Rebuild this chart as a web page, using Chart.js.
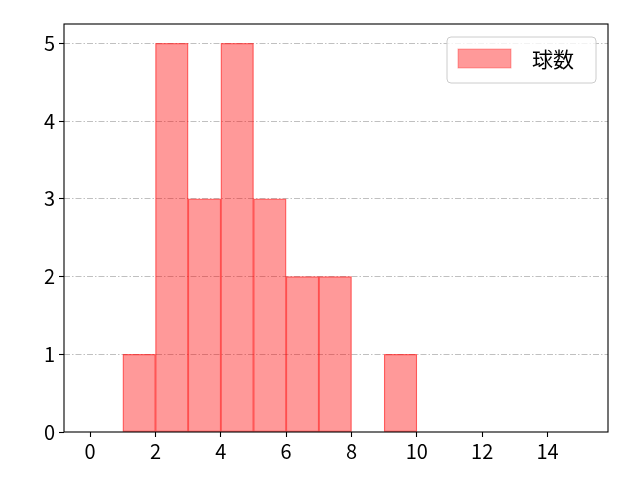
<!DOCTYPE html>
<html>
<head>
<meta charset="utf-8">
<script src="https://cdn.jsdelivr.net/npm/chart.js@4.4.1/dist/chart.umd.min.js"></script>
<style>
  html, body { margin: 0; padding: 0; background: #fff; }
  #wrap { width: 640px; height: 480px; }
</style>
</head>
<body>
<div id="wrap"><canvas id="c"></canvas></div>
<script>
// histogram bins (left edge of each 1-wide bin) and counts
const binStarts = [1, 2, 3, 4, 5, 6, 7, 8, 9];
const counts = [1, 5, 3, 5, 3, 2, 2, 0, 1];
const xTicks = [0, 2, 4, 6, 8, 10, 12, 14];
const yTicks = [0, 1, 2, 3, 4, 5];
const seriesLabel = '球数';

const FONT = '"Noto Sans CJK JP", "DejaVu Sans", sans-serif';

// frame + legend drawn on top, matplotlib style
const framePlugin = {
    id: 'frame',
    afterDraw(chart) {
        const ctx = chart.ctx;
        const a = chart.chartArea;
        ctx.save();
        ctx.strokeStyle = '#000';
        ctx.lineWidth = 1.1;
        ctx.strokeRect(a.left, a.top, a.right - a.left, a.bottom - a.top);

        // legend box
        const bx = 447, by = 37, bw = 149, bh = 46, r = 4;
        ctx.beginPath();
        ctx.moveTo(bx + r, by);
        ctx.arcTo(bx + bw, by, bx + bw, by + bh, r);
        ctx.arcTo(bx + bw, by + bh, bx, by + bh, r);
        ctx.arcTo(bx, by + bh, bx, by, r);
        ctx.arcTo(bx, by, bx + bw, by, r);
        ctx.closePath();
        ctx.fillStyle = 'rgba(255,255,255,0.8)';
        ctx.fill();
        ctx.strokeStyle = '#cccccc';
        ctx.lineWidth = 1;
        ctx.stroke();

        ctx.fillStyle = 'rgba(255,0,0,0.4)';
        ctx.fillRect(458, 49, 53, 19);
        ctx.strokeStyle = 'rgba(255,0,0,0.3)';
        ctx.strokeRect(458, 49, 53, 19);

        ctx.fillStyle = '#000';
        ctx.font = '21px ' + FONT;
        ctx.textBaseline = 'middle';
        ctx.textAlign = 'left';
        ctx.fillText(seriesLabel, 532, 59);
        ctx.restore();
    }
};

new Chart(document.getElementById('c'), {
    type: 'bar',
    data: {
        datasets: [{
            label: seriesLabel,
            data: binStarts.map((b, i) => ({ x: b + 0.5, y: counts[i] })),
            backgroundColor: 'rgba(255,0,0,0.4)',
            borderColor: 'rgba(255,0,0,0.55)',
            borderWidth: 0.6,
            borderSkipped: false,
            barPercentage: 1.0,
            categoryPercentage: 1.0,
        }]
    },
    plugins: [framePlugin],
    options: {
        responsive: true,
        maintainAspectRatio: false,
        animation: false,
        layout: { padding: { left: 0, right: 32, top: 24, bottom: 0 } },
        scales: {
            x: {
                type: 'linear',
                min: -0.8,
                max: 15.85,
                offset: false,
                afterBuildTicks: (s) => { s.ticks = xTicks.map(v => ({ value: v })); },
                afterFit: (s) => { s.height = 48; },
                grid: {
                    offset: false,
                    drawOnChartArea: false,
                    drawTicks: true,
                    tickLength: 5,
                    tickWidth: 1.1,
                    tickColor: '#000',
                },
                border: { display: false },
                ticks: {
                    color: '#000',
                    font: { family: FONT, size: 20 },
                    padding: 2,
                    maxRotation: 0,
                },
            },
            y: {
                min: 0,
                max: 5.25,
                afterBuildTicks: (s) => { s.ticks = yTicks.map(v => ({ value: v })); },
                afterFit: (s) => { s.width = 64; },
                grid: {
                    color: (c) => c.tick.value === 0 ? 'rgba(0,0,0,0)' : '#b0b0b0',
                    lineWidth: 0.8,
                    drawTicks: true,
                    tickLength: 5,
                    tickWidth: 1.1,
                    tickColor: '#000',
                },
                border: { display: false, dash: [6, 2, 1.5, 2] },
                ticks: {
                    color: '#000',
                    font: { family: FONT, size: 20 },
                    padding: 4,
                },
            },
        },
        plugins: {
            legend: { display: false },
            tooltip: { enabled: false },
        },
    },
});
</script>
</body>
</html>
